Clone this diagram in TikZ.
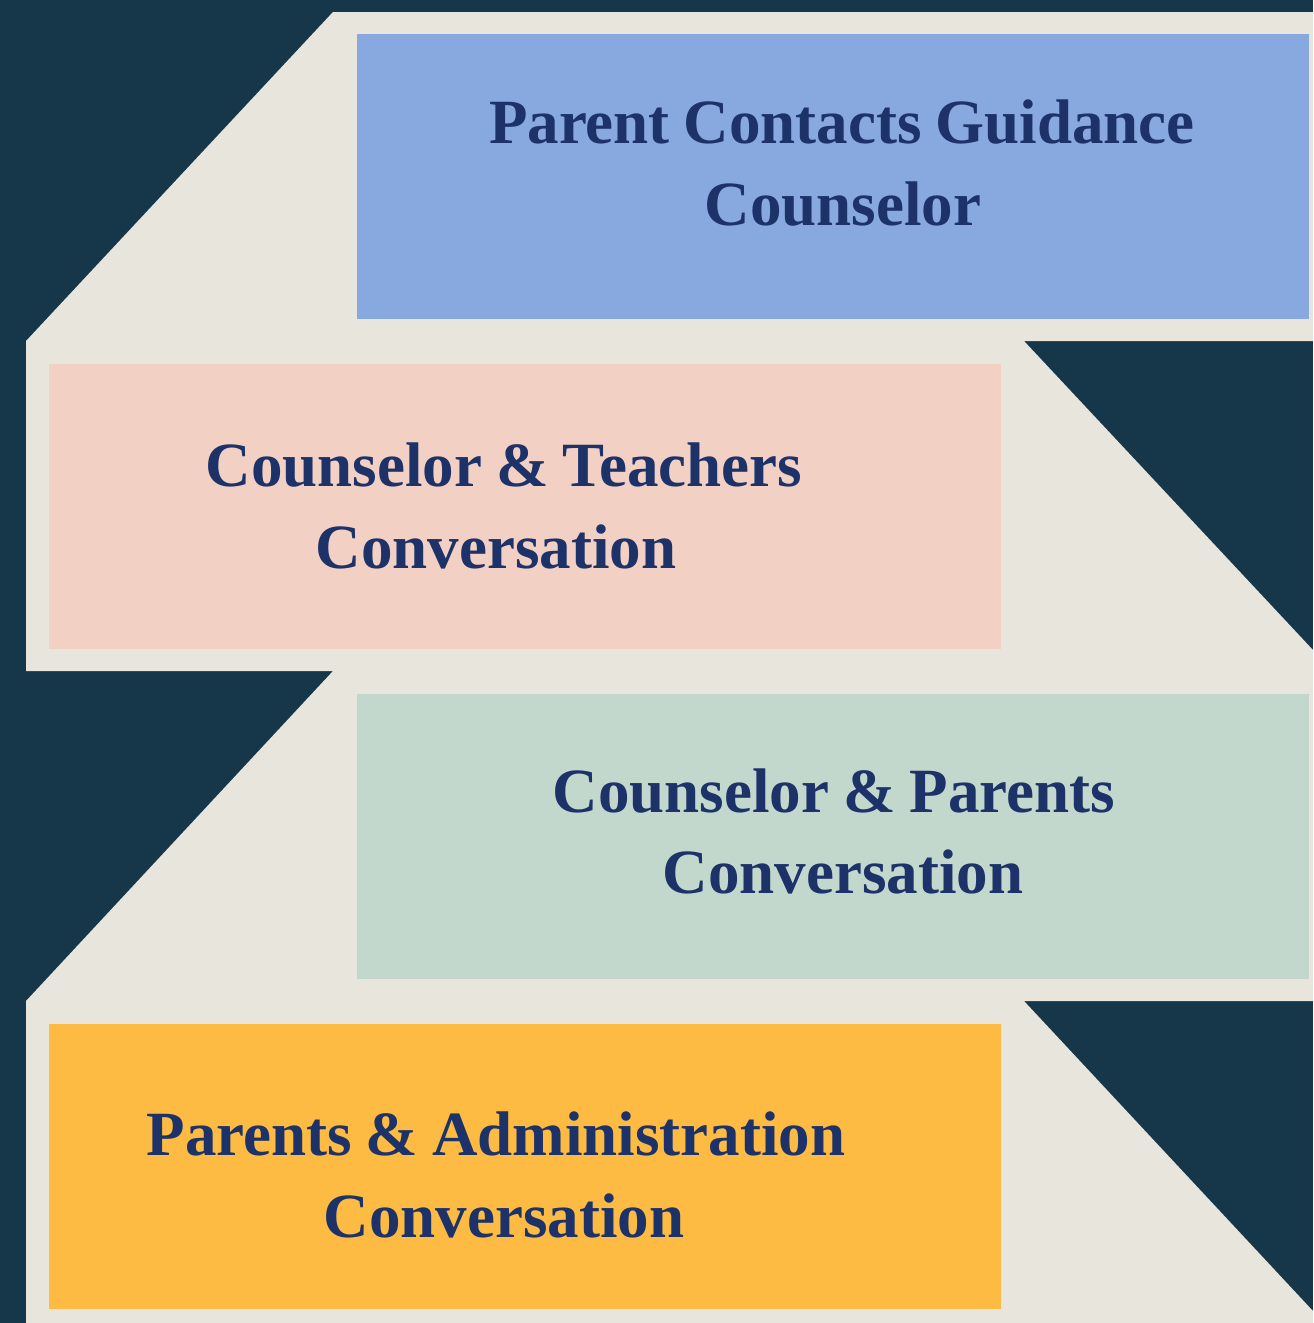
\documentclass[tikz,border=0pt]{standalone}
\usepackage{fontspec}
\setmainfont{Liberation Serif}
\definecolor{navy}{HTML}{16364A}
\definecolor{beige}{HTML}{E8E6DC}
\definecolor{cblue}{HTML}{87A9DF}
\definecolor{cpink}{HTML}{F2D0C4}
\definecolor{cgreen}{HTML}{C2D8CD}
\definecolor{corange}{HTML}{FEBB43}
\definecolor{ink}{HTML}{1C3268}
\newcommand\cardfont{\fontsize{31.5}{40}\selectfont\bfseries}
\begin{document}
\begin{tikzpicture}[x=0.5pt,y=-0.5pt,
  card/.style={draw=none, inner sep=0pt, outer sep=0pt, anchor=north west,
    minimum width=476pt, minimum height=142.5pt},
  txt/.style={font=\cardfont, text=ink, anchor=base, inner sep=0pt,
    execute at begin node={\spaceskip=7pt\relax}}]
\useasboundingbox (0,0) rectangle (1313,1323);
\fill[navy] (0,0) rectangle (1313,1323);
\fill[beige] (333,12) -- (1313,12) -- (1313,341) -- (1024,341) -- (1313,650)
  -- (1313,1001) -- (1024,1001) -- (1313,1311) -- (1313,1323) -- (26,1323)
  -- (26,1001) -- (333,671) -- (26,671) -- (26,341) -- cycle;
\node[card, fill=cblue]   (b1) at (357,34)   {};
\node[card, fill=cpink]   (b2) at (49,364)   {};
\node[card, fill=cgreen]  (b3) at (357,694)  {};
\node[card, fill=corange] (b4) at (49,1024)  {};
\node[txt] (t1a) at (842,143)  {Parent Contacts Guidance};
\node[txt] (t1b) at (843,225)  {Counselor};
\node[txt] (t2a) at (504,486)  {Counselor \& Teachers};
\node[txt] (t2b) at (496,568)  {Conversation};
\node[txt] (t3a) at (834,812)  {Counselor \& Parents};
\node[txt] (t3b) at (843,893)  {Conversation};
\node[txt] (t4a) at (496,1155) {Parents \& Administration};
\node[txt] (t4b) at (504,1237) {Conversation};
\end{tikzpicture}
\end{document}
